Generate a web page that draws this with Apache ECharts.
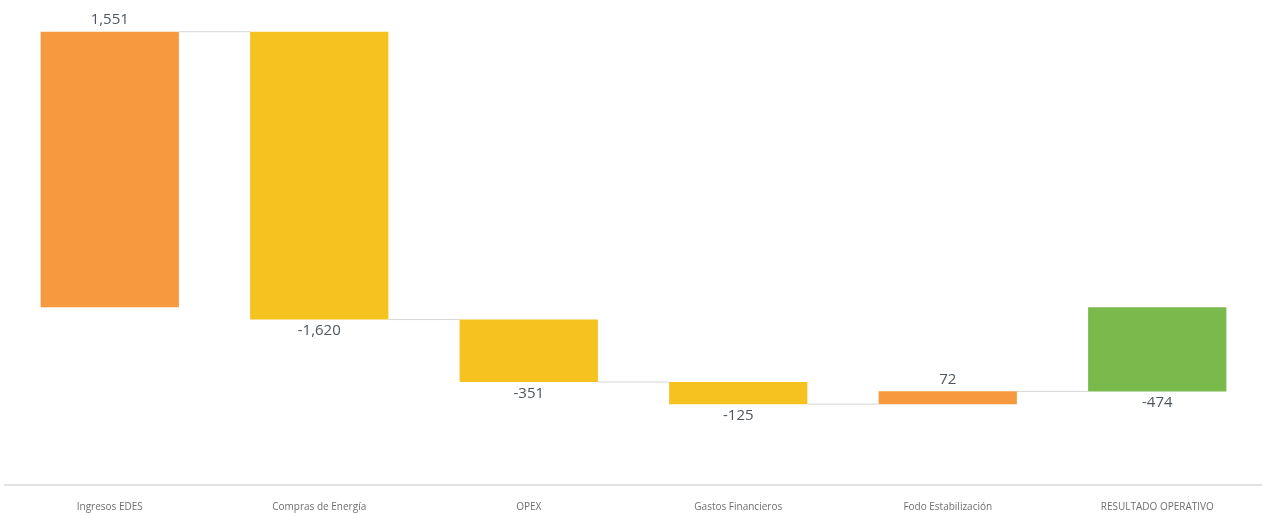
<!DOCTYPE html>
<html>
<head>
<meta charset="utf-8">
<script src="https://cdn.jsdelivr.net/npm/echarts@6/dist/echarts.min.js"></script>
<style>
  html, body { margin: 0; padding: 0; background: #fff; }
  #chart { width: 1262px; height: 516px; }
</style>
</head>
<body>
<div id="chart"></div>
<script>
// Waterfall: operating result build-up
const categories = ['Ingresos EDES', 'Compras de Energía', 'OPEX', 'Gastos Financieros', 'Fodo Estabilización', 'RESULTADO OPERATIVO'];
// step changes (last entry is the closing total)
const changes = [1551, -1620, -351, -125, 72];
const totalValue = -474;
const barColors = ['#F79A3F', '#F6C220', '#F6C220', '#F6C220', '#F79A3F', '#7AB94C'];

// build [index, start, end, labelValue] rows from the running sum
const rows = [];
let running = 0;
changes.forEach((v, i) => {
  rows.push([i, running, running + v, v]);
  running += v;
});
rows.push([changes.length, 0, totalValue, totalValue]);

const fmt = v => v.toLocaleString('en-US');

const chart = echarts.init(document.getElementById('chart'));
chart.setOption({
  animation: false,
  grid: { left: 5, right: 0, top: 23, bottom: 31, containLabel: false },
  xAxis: {
    type: 'category',
    data: categories,
    axisTick: { show: false },
    axisLine: { onZero: false, lineStyle: { color: '#e2e2e2', width: 2 } },
    axisLabel: { color: '#6f6f6f', fontSize: 10, fontFamily: 'Open Sans', margin: 17 }
  },
  yAxis: { type: 'value', min: -1000, max: 1600, show: false, splitLine: { show: false } },
  series: [{
    type: 'custom',
    data: rows,
    renderItem: function (params, api) {
      const i = api.value(0);
      const start = api.value(1);
      const end = api.value(2);
      const lv = api.value(3);
      const bw = api.size([1, 0])[0] * 0.66;
      const pStart = api.coord([i, start]);
      const pEnd = api.coord([i, end]);
      const top = Math.min(pStart[1], pEnd[1]);
      const bottom = Math.max(pStart[1], pEnd[1]);
      const cx = pStart[0];
      const children = [];
      if (i < rows.length - 1) {
        const pNext = api.coord([i + 1, end]);
        children.push({
          type: 'line',
          shape: { x1: cx + bw / 2, y1: pEnd[1], x2: pNext[0] - bw / 2, y2: pEnd[1] },
          style: { stroke: '#d6d6d6', lineWidth: 1 }
        });
      }
      children.push({
        type: 'rect',
        shape: { x: cx - bw / 2, y: top, width: bw, height: bottom - top },
        style: { fill: barColors[i] }
      });
      const up = lv >= 0;
      children.push({
        type: 'text',
        style: {
          text: fmt(lv),
          x: cx,
          y: up ? top - 4 : bottom + 4,
          align: 'center',
          verticalAlign: up ? 'bottom' : 'top',
          fill: '#4e5660',
          fontSize: 15,
          fontFamily: 'Open Sans'
        }
      });
      return { type: 'group', children: children };
    }
  }]
});
</script>
</body>
</html>
